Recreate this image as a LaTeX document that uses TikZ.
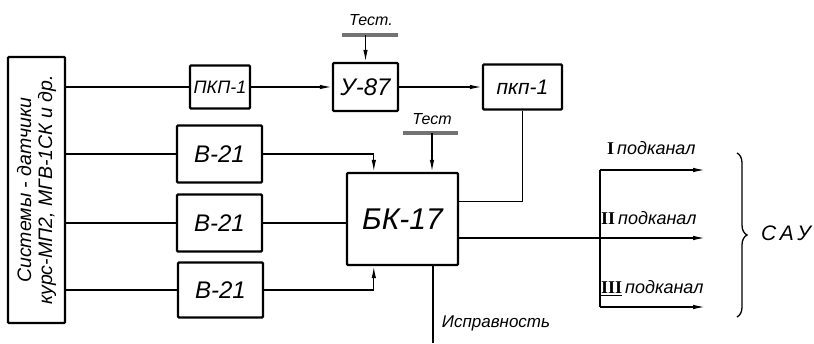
\documentclass[tikz,border=0pt]{standalone}
\usepackage{fontspec}
\setmainfont{Liberation Sans}
\newfontfamily\romfont{Liberation Serif}
\usetikzlibrary{arrows.meta,decorations.pathreplacing,calc}
\begin{document}
\begin{tikzpicture}[x=1pt,y=-1pt,
  blk/.style={draw, line width=2.4pt, rounded corners=1pt, inner sep=0pt, font=\itshape\fontsize{24}{24}\selectfont},
  ln/.style={line width=1.3pt},
  arr/.style={ln, -{Latex[length=12pt,width=4.5pt]}},
  lbl/.style={font=\itshape\fontsize{16}{16}\selectfont, inner sep=1pt},
  bar/.style={line width=4pt, black!55}
]
\useasboundingbox (0,0) rectangle (814,343);
% blocks
\node[blk, minimum width=57pt, minimum height=266pt] (src) at (36.5,190) {};
\node[rotate=90, align=center, font=\itshape\fontsize{19.5}{21}\selectfont] (srct) at (src.center) {Системы - датчики\\курс-МП2, МГВ-1СК и др.};
\node[blk, minimum width=60pt, minimum height=43pt, font=\itshape\fontsize{18}{18}\selectfont] (pkp1) at (220,87) {ПКП-1};
\node[blk, minimum width=65pt, minimum height=48pt] (u87) at (365.5,87) {У-87};
\node[blk, minimum width=79pt, minimum height=45pt, font=\itshape\fontsize{21}{21}\selectfont] (pkp2) at (522.5,87) {пкп-1};
\node[blk, minimum width=85pt, minimum height=57pt] (b1) at (219.5,154) {В-21};
\node[blk, minimum width=85pt, minimum height=57pt] (b2) at (219.5,223) {В-21};
\node[blk, minimum width=85pt, minimum height=55pt] (b3) at (220.5,290) {В-21};
\node[blk, minimum width=111pt, minimum height=92pt, font=\itshape\fontsize{30}{30}\selectfont] (bk) at (402.5,219) {БК-17};
% source connections
\draw[ln] (src.east |- pkp1.west) -- (pkp1.west);
\draw[ln] (src.east |- b1.west) -- (b1.west);
\draw[ln] (src.east |- b2.west) -- (b2.west);
\draw[ln] (src.east |- b3.west) -- (b3.west);
% top chain
\draw[arr] (pkp1) -- (u87);
\draw[arr] (u87) -- (pkp2);
% test 1
\coordinate (t1a) at (342,35);
\coordinate (t1b) at (398,35);
\draw[bar] (t1a) -- (t1b);
\node[lbl] (t1) at (371,20) {Тест.};
\draw[arr] (u87.north |- t1a) -- (u87.north);
% test 2
\coordinate (t2a) at (403,133);
\coordinate (t2b) at (458,133);
\coordinate (t2) at (432,133);
\draw[bar] (t2a) -- (t2b);
\node[lbl] (t2l) at (432,119) {Тест};
\draw[arr] (t2) -- (t2 |- bk.north);
% B-21 to BK-17
\draw[arr] (b1.east) -| ($(bk.north west)+(28,0)$);
\draw[ln] (b2.east) -- (b2.east -| bk.west);
\draw[arr] (b3.east) -| ($(bk.south west)+(28,0)$);
% pkp2 to BK
\draw[ln] (pkp2.south) |- ($(bk.north east)+(0,30)$);
% outputs
\coordinate (o1) at (705,170);
\coordinate (o2) at (705,238);
\coordinate (o3) at (705,307);
\coordinate (bt) at (600,170);
\coordinate (bb) at (600,307);
\draw[arr] (bk.east |- o2) -- (o2);
\draw[ln] (bt) -- (bb);
\draw[arr] (bt) -- (o1);
\draw[arr] (bb) -- (o3);
\node[lbl, anchor=west, font=\itshape\fontsize{18}{18}\selectfont] (l1) at (606,148) {{\romfont\bfseries\upshape I}\,подканал};
\node[lbl, anchor=west, font=\itshape\fontsize{18}{18}\selectfont] (l2) at (600,218) {{\romfont\bfseries\upshape II}\,подканал};
\node[lbl, anchor=west, font=\itshape\fontsize{18}{18}\selectfont] (l3) at (600,288) {\underline{{\romfont\bfseries\upshape III}}\,подканал};
% brace
\draw[ln, decorate, decoration={brace, amplitude=10pt}] (737,153) -- (737,317);
\node[font=\itshape\fontsize{21}{21}\selectfont] (sau) at (786,233) {С\,А\,У};
% bottom
\coordinate (ex) at (433,343);
\draw[ln] (bk.south -| ex) -- (ex);
\node[lbl, font=\itshape\fontsize{17}{17}\selectfont] (ispr) at (496,323) {Исправность};
\end{tikzpicture}
\end{document}
